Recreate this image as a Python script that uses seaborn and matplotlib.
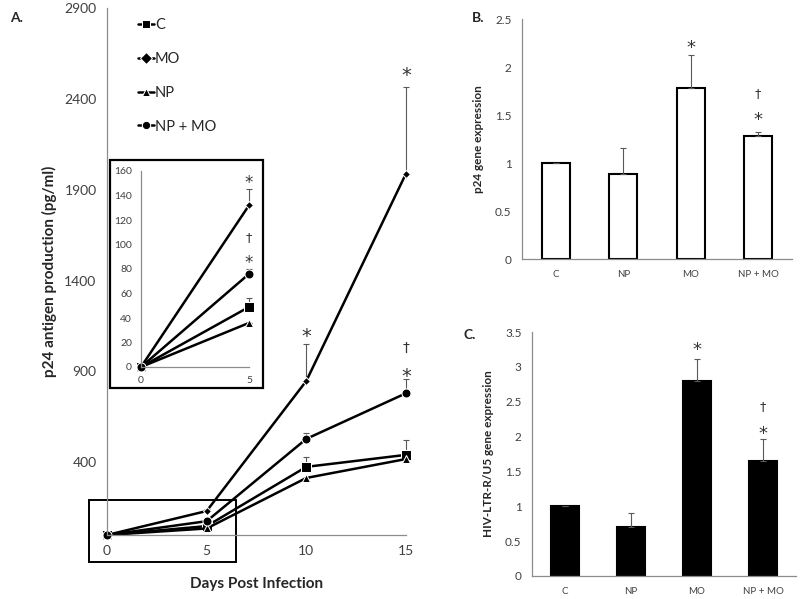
import pandas as pd
import matplotlib.pyplot as plt
import seaborn as sns
from matplotlib.patches import Rectangle

# Dados - painel A (p24, pg/ml)
days = [0, 5, 10, 15]
groups = ['C', 'MO', 'NP', 'NP + MO']
c_vals = [0, 49, 375, 441]
mo_vals = [0, 132, 848, 1989]
np_vals = [0, 36, 314, 418]
npmo_vals = [0, 76, 529, 780]
c_err = [0, 7, 55, 82]
mo_err = [0, 13, 205, 475]
np_err = [0, 0, 0, 0]
npmo_err = [0, 4, 33, 80]

# Dados - painel B e C
cats = ['C', 'NP', 'MO', 'NP + MO']
p24_expr = [1.0, 0.89, 1.78, 1.28]
p24_err = [0, 0.27, 0.34, 0.04]
ltr_expr = [1.0, 0.71, 2.80, 1.65]
ltr_err = [0, 0.20, 0.31, 0.31]

sns.set_style('white')
plt.rcParams['font.family'] = ['Lato', 'DejaVu Sans']

df = pd.DataFrame({
    'day': days * 4,
    'value': c_vals + mo_vals + np_vals + npmo_vals,
    'err': c_err + mo_err + np_err + npmo_err,
    'group': [g for g in groups for _ in days],
})

markers = {'C': 's', 'MO': 'D', 'NP': '^', 'NP + MO': 'o'}
msizes = {'C': 6.5, 'MO': 4, 'NP': 6, 'NP + MO': 6.5}
palette = {g: 'black' for g in groups}
gray = '#595959'
axis_gray = '#8c8c8c'

fig = plt.figure(figsize=(8, 5.99), dpi=100)


def style_axis(ax):
    sns.despine(ax=ax)
    for s in ['left', 'bottom']:
        ax.spines[s].set_color(axis_gray)
        ax.spines[s].set_linewidth(0.9)
    ax.tick_params(axis='both', colors=axis_gray, labelcolor='#404040',
                   direction='out', length=4, width=0.8)


def mark(ax, x, y, s, big=14, small=10):
    # asterisco / cruz de significância
    ax.text(x, y, s, ha='center', va='center', fontsize=big if s == '*' else small,
            color='#333333', family='DejaVu Sans')


def draw_lines(ax, data):
    sns.lineplot(data=data, x='day', y='value', hue='group', style='group',
                 markers=markers, dashes=False, palette=palette, linewidth=1.8,
                 ax=ax, legend=(ax is axA))
    for line, g in zip(ax.lines, groups):
        line.set_markersize(msizes[g])
        line.set_clip_on(False)
    for g in groups:
        sub = data[data['group'] == g]
        eb = ax.errorbar(sub['day'], sub['value'], yerr=[[0] * len(sub), sub['err']],
                         fmt='none', ecolor=gray, elinewidth=0.8, capsize=2,
                         capthick=0.8, zorder=1)
        for art in eb.lines[1] + eb.lines[2]:
            art.set_clip_on(False)


# ---- Painel A ----
axA = fig.add_axes([107 / 800, 1 - 535 / 599, 299 / 800, 527 / 599])
draw_lines(axA, df)
axA.set_xlim(0, 15)
axA.set_ylim(0, 2900)
axA.set_xticks([0, 5, 10, 15])
axA.set_yticks([400, 900, 1400, 1900, 2400, 2900])
axA.tick_params(labelsize=10)
style_axis(axA)
axA.set_xlabel('Days Post Infection', fontsize=11, fontweight='bold', labelpad=14)
axA.set_ylabel('p24 antigen production (pg/ml)', fontsize=11, fontweight='bold', labelpad=5)
leg = axA.legend(loc='upper left', bbox_to_anchor=(0.06, 1.005), frameon=False,
                 labelspacing=1.35, handlelength=1.1, handletextpad=0.05, fontsize=10.5)
for t in leg.get_texts():
    t.set_color('#262626')

for x, y, s in [(15, 2530, '*'), (10, 1090, '*'), (15, 1030, '†'), (15, 870, '*')]:
    mark(axA, x, y, s)

axA.add_patch(Rectangle((-0.9, -149), 7.35, 342, fill=False, lw=1.4,
                        ec='black', clip_on=False))

# Inset
fig.add_artist(Rectangle((110 / 800, 1 - 388 / 599), 153 / 800, 228 / 599,
                         transform=fig.transFigure, fill=False, lw=1.6, ec='black'))
axI = fig.add_axes([141 / 800, 1 - 367 / 599, 108 / 800, 196 / 599])
ins = df[df['day'] <= 5]
draw_lines(axI, ins)
axI.set_xlim(0, 5)
axI.set_ylim(0, 160)
axI.set_xticks([0, 5])
axI.set_yticks(range(0, 161, 20))
axI.set_xlabel('')
axI.set_ylabel('')
style_axis(axI)
axI.tick_params(labelsize=7.5, length=3)
axI.patch.set_alpha(0)
for x, y, s in [(5, 150, '*'), (5, 106, '†'), (5, 85, '*')]:
    mark(axI, x, y, s, big=12, small=9)

fig.text(10 / 800, 1 - 18 / 599, 'A.', fontsize=10, fontweight='bold', va='center')


# ---- Painéis B e C ----
def bar_panel(rect, vals, errs, ymax, step, fill, ylabel, marks):
    ax = fig.add_axes(rect)
    bdf = pd.DataFrame({'cat': cats, 'val': vals})
    sns.barplot(data=bdf, x='cat', y='val', color=fill, edgecolor='black',
                linewidth=1.5, width=0.41, ax=ax, errorbar=None)
    for p in ax.patches:
        p.set_facecolor(fill)
    ax.errorbar(range(len(cats)), vals, yerr=[[0] * len(cats), errs], fmt='none',
                ecolor=gray, elinewidth=0.8, capsize=2, capthick=0.8, zorder=1)
    ax.set_xlim(-0.5, len(cats) - 0.5)
    ax.set_ylim(0, ymax)
    ticks = [round(i * step, 1) for i in range(int(round(ymax / step)) + 1)]
    ax.set_yticks(ticks)
    ax.set_yticklabels([f'{t:g}' for t in ticks])
    style_axis(ax)
    ax.tick_params(axis='y', labelsize=8.5)
    ax.tick_params(axis='x', labelsize=7, length=0, pad=8)
    ax.set_xticks([i - 0.5 for i in range(len(cats) + 1)], minor=True)
    ax.tick_params(axis='x', which='minor', length=4, color=axis_gray, width=0.8)
    ax.set_xlabel('')
    ax.set_ylabel(ylabel, fontsize=8.5, fontweight='bold', labelpad=8)
    for i, y, s in marks:
        mark(ax, i, y, s, big=13, small=9)
    return ax


bar_panel([522 / 800, 1 - 259 / 599, 270 / 800, 240 / 599], p24_expr, p24_err,
          2.5, 0.5, 'white', 'p24 gene expression',
          [(2, 2.2, '*'), (3, 1.72, '†'), (3, 1.45, '*')])
bar_panel([532 / 800, 1 - 576 / 599, 264 / 800, 244 / 599], ltr_expr, ltr_err,
          3.5, 0.5, 'black', 'HIV-LTR-R/U5 gene expression',
          [(2, 3.24, '*'), (3, 2.43, '†'), (3, 2.03, '*')])

fig.text(472 / 800, 1 - 18 / 599, 'B.', fontsize=10, fontweight='bold', va='center')
fig.text(463 / 800, 1 - 335 / 599, 'C.', fontsize=10, fontweight='bold', va='center')

plt.savefig('out.png', dpi=100)
